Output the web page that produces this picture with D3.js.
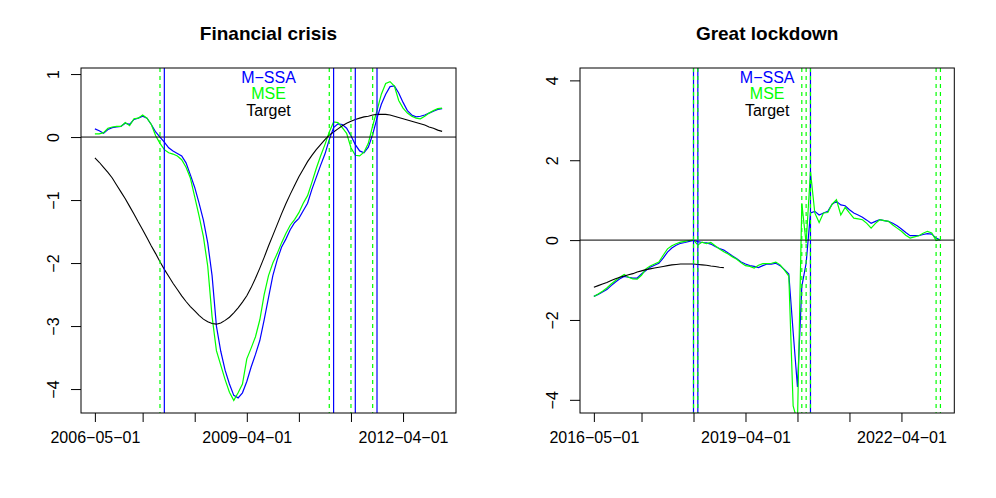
<!DOCTYPE html>
<html>
<head>
<meta charset="utf-8">
<script src="https://cdn.jsdelivr.net/npm/d3@7"></script>
<style>
  body { margin: 0; background: #fff; }
  svg { display: block; font-family: "Liberation Sans", Arial, Helvetica, sans-serif; }
</style>
</head>
<body>
<svg id="chart" width="996" height="498"></svg>
<script>
// monthly observations, index 0 = first month of each window
const tickIdx = [0, 11, 23, 35, 47, 59, 71];
const crisisTickLabels = ["2006\u221205\u221201", "", "", "2009\u221204\u221201", "", "", "2012\u221204\u221201"];
const lockdownTickLabels = ["2016\u221205\u221201", "", "", "2019\u221204\u221201", "", "", "2022\u221204\u221201"];

const crisisYTicks = [-4, -3, -2, -1, 0, 1];
const lockdownYTicks = [-4, -2, 0, 2, 4];

const legendLabels = ["M\u2212SSA", "MSE", "Target"];

// Financial crisis: 2006-05 .. 2013-01
const crisisMSSA = [
  0.13, 0.10, 0.06, 0.12, 0.15, 0.16, 0.17, 0.22, 0.20, 0.28,
  0.30, 0.33, 0.30, 0.20, 0.08, 0.00, -0.08, -0.17, -0.22, -0.26,
  -0.30, -0.41, -0.60, -0.80, -1.05, -1.32, -1.68, -2.20, -3.00, -3.40,
  -3.70, -3.92, -4.10, -4.14, -4.06, -3.88, -3.65, -3.45, -3.23, -2.90,
  -2.55, -2.20, -1.95, -1.75, -1.62, -1.47, -1.36, -1.29, -1.17, -1.05,
  -0.83, -0.64, -0.45, -0.27, -0.04, 0.15, 0.21, 0.20, 0.14, 0.02,
  -0.12, -0.22, -0.25, -0.16, 0.04, 0.30, 0.52, 0.68, 0.80, 0.81,
  0.70, 0.55, 0.42, 0.35, 0.32, 0.33, 0.35, 0.38, 0.41, 0.44,
  0.45
];
const crisisMSE = [
  0.05, 0.05, 0.07, 0.14, 0.16, 0.17, 0.17, 0.23, 0.18, 0.29,
  0.30, 0.35, 0.30, 0.20, 0.02, -0.10, -0.20, -0.25, -0.27, -0.30,
  -0.36, -0.48, -0.65, -0.95, -1.25, -1.58, -2.05, -2.85, -3.39, -3.62,
  -3.85, -4.05, -4.18, -4.06, -3.92, -3.52, -3.35, -3.17, -2.90, -2.50,
  -2.20, -2.00, -1.85, -1.68, -1.53, -1.40, -1.31, -1.20, -1.05, -0.93,
  -0.72, -0.50, -0.30, -0.12, 0.08, 0.24, 0.23, 0.15, 0.06, -0.17,
  -0.29, -0.30, -0.24, -0.10, 0.18, 0.42, 0.68, 0.85, 0.88, 0.81,
  0.58, 0.46, 0.38, 0.33, 0.30, 0.29, 0.33, 0.38, 0.42, 0.45,
  0.46
];
const crisisTarget = [
  -0.33, -0.40, -0.48, -0.56, -0.65, -0.76, -0.87, -0.98, -1.10, -1.22,
  -1.35, -1.47, -1.60, -1.73, -1.85, -1.98, -2.10, -2.21, -2.32, -2.42,
  -2.52, -2.61, -2.69, -2.76, -2.83, -2.89, -2.93, -2.96, -2.97, -2.95,
  -2.91, -2.86, -2.79, -2.71, -2.62, -2.52, -2.39, -2.24, -2.08, -1.91,
  -1.73, -1.56, -1.39, -1.22, -1.06, -0.91, -0.77, -0.63, -0.51, -0.39,
  -0.29, -0.20, -0.12, -0.04, 0.03, 0.08, 0.13, 0.18, 0.22, 0.25,
  0.28, 0.30, 0.32, 0.33, 0.35, 0.36, 0.36, 0.36, 0.35, 0.33,
  0.31, 0.29, 0.27, 0.25, 0.23, 0.21, 0.19, 0.16, 0.14, 0.11,
  0.09
];
const crisisMSSAMarks = [16, 55, 60, 65];
const crisisMSEMarks = [15, 54, 59, 64];

// Great lockdown: 2016-05 .. 2023-01
const lockdownMSSA = [
  -1.41, -1.36, -1.30, -1.24, -1.14, -1.05, -0.97, -0.91, -0.93, -0.95,
  -0.95, -0.85, -0.76, -0.68, -0.63, -0.58, -0.45, -0.30, -0.20, -0.13,
  -0.08, -0.06, -0.03, -0.01, -0.04, -0.06, -0.07, -0.10, -0.16, -0.21,
  -0.25, -0.32, -0.40, -0.47, -0.55, -0.60, -0.64, -0.66, -0.69, -0.64,
  -0.60, -0.60, -0.58, -0.64, -0.74, -0.85, -2.30, -3.68, -1.16, -0.58,
  0.68, 0.72, 0.63, 0.68, 0.72, 0.90, 0.97, 0.88, 0.86, 0.76,
  0.68, 0.63, 0.57, 0.50, 0.42, 0.47, 0.51, 0.49, 0.47, 0.42,
  0.36, 0.28, 0.19, 0.11, 0.11, 0.11, 0.14, 0.16, 0.15, 0.05,
  0.00
];
const lockdownMSE = [
  -1.41, -1.35, -1.28, -1.20, -1.10, -1.01, -0.93, -0.86, -0.93, -0.97,
  -0.98, -0.88, -0.72, -0.65, -0.60, -0.55, -0.38, -0.22, -0.14, -0.09,
  -0.05, -0.03, -0.01, 0.00, -0.12, -0.05, -0.09, -0.06, -0.14, -0.22,
  -0.29, -0.35, -0.42, -0.48, -0.57, -0.64, -0.66, -0.70, -0.63, -0.59,
  -0.59, -0.58, -0.55, -0.62, -0.75, -0.90, -4.15, -4.55, 0.92, -0.08,
  1.72, 0.68, 0.44, 0.68, 0.69, 0.90, 1.01, 0.63, 0.82, 0.68,
  0.55, 0.53, 0.51, 0.42, 0.30, 0.42, 0.51, 0.49, 0.47, 0.38,
  0.30, 0.22, 0.12, 0.05, 0.08, 0.11, 0.17, 0.22, 0.18, -0.01,
  0.02
];
const lockdownTarget = [
  -1.18, -1.14, -1.10, -1.06, -1.01, -0.97, -0.93, -0.90, -0.87, -0.84,
  -0.80, -0.77, -0.74, -0.72, -0.70, -0.68, -0.66, -0.64, -0.62, -0.61,
  -0.60, -0.60, -0.60, -0.60, -0.61, -0.62, -0.63, -0.65, -0.66, -0.68,
  -0.69
];
const lockdownMSSAMarks = [23, 24, 50];
const lockdownMSEMarks = [23, 24, 48, 49, 50, 79, 80];

const TOP = 68;
const BOTTOM = 413;
const FONT = 16;

const panels = [
  {
    id: "crisis",
    title: "Financial crisis",
    left: 81, right: 456,
    yDomain: [-4.38, 1.096],
    yTicks: crisisYTicks,
    tickLabels: crisisTickLabels,
    mssa: crisisMSSA, mse: crisisMSE, target: crisisTarget,
    mssaMarks: crisisMSSAMarks, mseMarks: crisisMSEMarks
  },
  {
    id: "lockdown",
    title: "Great lockdown",
    left: 580, right: 954.3,
    yDomain: [-4.33, 4.31],
    yTicks: lockdownYTicks,
    tickLabels: lockdownTickLabels,
    mssa: lockdownMSSA, mse: lockdownMSE, target: lockdownTarget,
    mssaMarks: lockdownMSSAMarks, mseMarks: lockdownMSEMarks
  }
];

const svg = d3.select("#chart");
const legendColors = ["#0000ff", "#00ff00", "#000000"];

const drawPanel = p => {
  const x = d3.scaleLinear().domain([-3.2, 83.2]).range([p.left, p.right]);
  const y = d3.scaleLinear().domain(p.yDomain).range([BOTTOM, TOP]);

  svg.append("clipPath")
    .attr("id", "clip-" + p.id)
    .append("rect")
    .attr("x", p.left).attr("y", TOP)
    .attr("width", p.right - p.left).attr("height", BOTTOM - TOP);

  const plot = svg.append("g").attr("clip-path", `url(#clip-${p.id})`);

  const line = d3.line().x((d, i) => x(i)).y(d => y(d));

  plot.append("path").datum(p.mssa)
    .attr("d", line)
    .attr("fill", "none").attr("stroke", "#0000ff").attr("stroke-width", 1.2);
  plot.append("path").datum(p.mse)
    .attr("d", line)
    .attr("fill", "none").attr("stroke", "#00ff00").attr("stroke-width", 1.2);
  plot.append("path").datum(p.target)
    .attr("d", line)
    .attr("fill", "none").attr("stroke", "#000").attr("stroke-width", 1.1);

  // zero line
  plot.append("line")
    .attr("x1", p.left).attr("x2", p.right)
    .attr("y1", y(0)).attr("y2", y(0))
    .attr("stroke", "#000").attr("stroke-width", 1);

  // turning point markers
  plot.selectAll(".mssa-mark")
    .data(p.mssaMarks)
    .join("line")
    .attr("class", "mssa-mark")
    .attr("x1", d => x(d)).attr("x2", d => x(d))
    .attr("y1", TOP).attr("y2", BOTTOM)
    .attr("stroke", "#0000ff").attr("stroke-width", 1.2);
  plot.selectAll(".mse-mark")
    .data(p.mseMarks)
    .join("line")
    .attr("class", "mse-mark")
    .attr("x1", d => x(d)).attr("x2", d => x(d))
    .attr("y1", TOP).attr("y2", BOTTOM)
    .attr("stroke", "#00ff00").attr("stroke-width", 1.2)
    .attr("stroke-dasharray", "4,4");

  // legend text
  svg.append("g")
    .selectAll("text")
    .data(legendLabels)
    .join("text")
    .attr("x", (p.left + p.right) / 2)
    .attr("y", (d, i) => 82.5 + i * 16.5)
    .attr("text-anchor", "middle")
    .attr("font-size", FONT)
    .attr("fill", (d, i) => legendColors[i])
    .text(d => d);

  // box
  svg.append("rect")
    .attr("x", p.left).attr("y", TOP)
    .attr("width", p.right - p.left).attr("height", BOTTOM - TOP)
    .attr("fill", "none").attr("stroke", "#000").attr("stroke-width", 1);

  // x axis
  svg.append("g")
    .attr("transform", `translate(0,${BOTTOM})`)
    .call(
      d3.axisBottom(x)
        .tickValues(tickIdx)
        .tickFormat((d, i) => p.tickLabels[i])
        .tickSize(9)
        .tickPadding(10)
    )
    .call(g => g.select(".domain").remove())
    .call(g => g.selectAll(".tick line").attr("stroke", "#000"))
    .call(g => g.selectAll(".tick text")
      .attr("font-size", FONT)
      .attr("font-family", null)
      .attr("fill", "#000"));

  // y axis, labels rotated like R's default
  svg.append("g")
    .attr("transform", `translate(${p.left},0)`)
    .call(
      d3.axisLeft(y)
        .tickValues(p.yTicks)
        .tickFormat(d3.format("d"))
        .tickSize(10)
    )
    .call(g => g.select(".domain").remove())
    .call(g => g.selectAll(".tick line").attr("stroke", "#000"))
    .call(g => g.selectAll(".tick text")
      .attr("x", 0)
      .attr("dy", null)
      .attr("transform", "translate(-28,0) rotate(-90)")
      .attr("text-anchor", "middle")
      .attr("dominant-baseline", "central")
      .attr("font-size", FONT)
      .attr("font-family", null)
      .attr("fill", "#000"));

  svg.append("text")
    .attr("x", (p.left + p.right) / 2)
    .attr("y", 40)
    .attr("text-anchor", "middle")
    .attr("font-size", 19)
    .attr("font-weight", "bold")
    .text(p.title);
};

panels.forEach(drawPanel);
</script>
</body>
</html>
